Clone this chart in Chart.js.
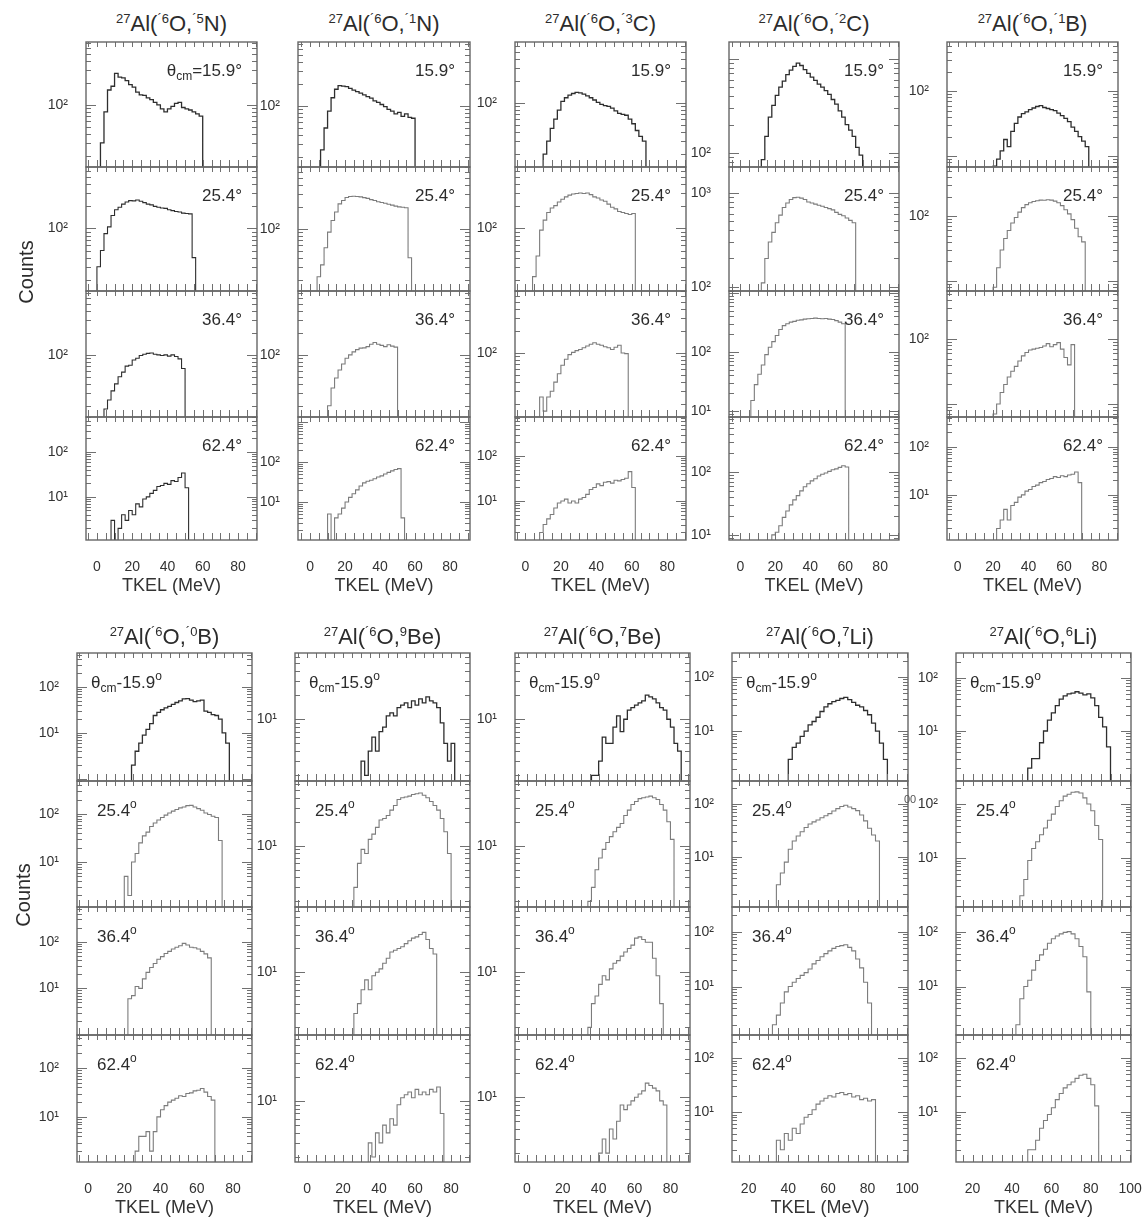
<!DOCTYPE html>
<html>
<head>
<meta charset="utf-8">
<title>TKEL spectra, 16O + 27Al</title>
<script src="https://cdn.jsdelivr.net/npm/chart.js@4.4.1/dist/chart.umd.min.js"></script>
<style>
  html, body { margin: 0; padding: 0; background: #fff; }
  #fig { position: relative; width: 1146px; height: 1218px; overflow: hidden;
         font-family: "Liberation Sans", Arial, sans-serif; color: #2c2c2c; }
  #fig canvas { position: absolute; }
  .ttl { position: absolute; font-size: 22px; line-height: 22px; white-space: nowrap; transform: translateX(-50%); }
  .ttl sup { font-size: 13px; vertical-align: 8px; line-height: 0; }
  .ang { position: absolute; font-size: 17px; line-height: 17px; white-space: nowrap; }
  .ang sub { font-size: 12px; vertical-align: -4px; line-height: 0; }
  .ang sup { font-size: 12px; vertical-align: 8px; line-height: 0; }
  .ylab { position: absolute; font-size: 20px; white-space: nowrap; transform: translate(-50%, -50%) rotate(-90deg); }
  .frag { position: absolute; font-size: 11px; color: #555; }
</style>
</head>
<body>
<div id="fig"></div>
<script>
// channel width of the spectra (MeV)
const BIN = 2;
const anglesCM = ['15.9', '25.4', '36.4', '62.4'];
const tkelTicks = [0, 20, 40, 60, 80];
const tkelTicksLi = [20, 40, 60, 80, 100];

// 27Al(16O,15N)
const n15Start = [0, -2, 2, 6];
const n15Counts = [
  [0,30,80,160,180,270,240,235,215,190,175,150,137,135,125,118,108,100,88,80,88,95,105,108,92,88,85,80,75,70,0],
  [0,30,50,85,105,150,180,195,215,230,240,238,245,235,225,215,210,200,195,190,188,180,175,170,168,162,160,158,40,0],
  [0,18,24,32,40,50,58,70,72,85,90,98,102,105,106,102,100,98,100,96,100,95,88,65,0],
  [0,3,0,2,4,3,5,4,7,6,9,10,12,14,17,18,20,19,23,22,27,34,16,0]
];
const n15Range = [[14, 730], [14, 690], [14, 755], [1.1, 600]];
const n15Decades = [[100], [100], [100], [10, 100]];

// 27Al(16O,14N)
const n14Start = [4, 2, 8, 8];
const n14Counts = [
  [0,25,50,85,130,170,190,188,185,175,165,158,150,142,135,128,118,112,105,98,90,85,78,82,72,78,70,68,0],
  [0,22,32,55,90,130,170,220,245,270,278,280,278,275,268,262,252,245,235,230,225,218,212,205,200,198,195,40,0],
  [0,20,35,48,62,75,90,100,110,118,124,125,130,140,148,140,135,130,138,132,128,0],
  [0,5,0,4,5,7,10,13,16,20,25,30,33,35,38,42,45,50,55,60,65,68,4,0]
];
const n14Range = [[14.6, 755], [14, 707], [14, 755], [1.12, 1330]];
const n14Decades = [[100], [100], [100], [10, 100]];

// 27Al(16O,13C)
const c13Start = [8, 2, 6, 6];
const c13Counts = [
  [0,20,30,45,60,80,105,118,128,135,140,138,132,125,118,110,102,96,92,90,85,78,72,70,68,60,52,42,35,30,0],
  [0,22,42,95,130,165,190,205,230,250,270,285,295,300,305,300,305,290,270,260,245,235,215,195,185,170,165,160,155,160,0],
  [0,25,16,25,30,40,52,68,82,95,102,108,112,118,125,132,138,132,128,122,118,112,120,128,100,98,0],
  [0,2,3,4,5,7,9,10,11,9,10,9,11,12,14,18,20,24,22,26,27,25,29,28,30,32,45,20,0]
];
const c13Range = [[13.3, 684], [14, 690], [13.3, 707], [1.36, 735]];
const c13Decades = [[100], [100], [100], [10, 100]];

// 27Al(16O,12C)
const c12Start = [10, 10, 4, 16];
const c12Counts = [
  [0,85,150,240,320,410,500,580,680,760,830,900,850,770,700,640,590,540,500,460,420,370,330,280,240,200,175,150,115,95,0],
  [0,110,200,300,380,480,580,700,780,850,890,900,880,850,800,780,760,740,720,700,680,660,620,590,570,540,510,480,0],
  [0,15,28,42,60,90,120,150,190,240,280,300,320,330,345,350,360,365,370,375,370,365,370,360,355,340,320,300,0],
  [0,10,11,14,19,24,30,36,42,50,58,65,72,78,86,92,96,102,108,112,118,125,120,0]
];
const c12Range = [[71, 1510], [90, 1890], [7.9, 1080], [8.3, 745]];
const c12Decades = [[100], [100, 1000], [10, 100], [10, 100]];

// 27Al(16O,11B)
const b11Start = [18, 18, 16, 20];
const b11Counts = [
  [0,7,9,12,18,14,24,32,40,45,48,52,55,58,60,56,54,52,50,46,42,38,34,28,24,20,17,14,0],
  [0,8,16,30,45,60,78,95,115,135,150,160,168,172,176,175,178,176,170,160,145,125,108,88,65,48,40,0],
  [0,4,7,10,15,20,26,32,38,46,55,62,68,70,72,74,78,85,76,82,88,70,52,40,82,0],
  [0,2,3,5,3,6,7,9,10,12,13,15,16,18,19,21,22,24,23,25,24,26,27,30,18,0]
];
const b11Range = [[6.8, 570], [7, 570], [6.3, 550], [1.15, 420]];
const b11Decades = [[100], [100], [100], [10, 100]];

// 27Al(16O,10B)
const b10Start = [22, 18, 20, 24];
const b10Counts = [
  [0,2,4,6,9,12,16,24,28,32,35,38,42,46,50,55,56,52,48,50,52,30,28,25,24,20,10,6,0],
  [0,5,2,10,15,25,35,42,55,65,75,85,95,105,115,125,135,140,150,152,140,130,120,105,98,90,85,28,0],
  [0,6,7,11,10,16,22,28,34,42,48,56,62,70,76,82,92,85,76,74,70,62,55,45,0],
  [0,2,4,4,5,2,5,10,14,17,20,22,24,27,26,30,31,34,35,38,32,26,22,0]
];
const b10Range = [[0.9, 550], [1.15, 490], [1, 555], [1.2, 470]];
const b10Decades = [[10, 100], [10, 100], [10, 100], [10, 100]];

// 27Al(16O,9Be)
const be9Start = [28, 24, 24, 32];
const be9Counts = [
  [0,3,2,4,6,4,7,8,11,12,11,14,15,16,14,17,15,18,16,19,17,16,14,9,5,3,5,0],
  [0,3,6,9,8,12,14,17,21,22,24,28,32,38,40,41,42,44,45,46,43,40,36,32,28,22,15,8,0],
  [0,3,4,6,8,6,9,10,11,13,15,18,19,20,21,23,25,27,28,30,32,26,20,17,0],
  [0,3,2,4,3,5,4,6,5,9,11,12,13,11,14,12,13,12,14,13,15,7,0]
];
const be9Range = [[1.7, 67], [1.7, 65], [1.6, 67], [1.73, 67]];
const be9Decades = [[10], [10], [10], [10]];

// 27Al(16O,7Be)
const be7Start = [34, 32, 32, 38];
const be7Counts = [
  [0,2,2,3,6,5,5,8,11,7,10,13,14,15,16,17,20,19,18,16,14,13,10,8,5,4,0],
  [0,2,3,5,7,9,11,13,15,17,19,24,28,33,36,39,40,41,42,40,38,33,28,20,12,0],
  [0,2,4,5,7,9,8,11,13,14,16,18,20,22,27,28,26,24,24,15,9,4,0],
  [0,2,3,2,4,3,5,8,7,8,9,10,11,12,15,14,13,12,9,8,0]
];
const be7Range = [[1.7, 67], [1.7, 65], [1.6, 67], [1.55, 60]];
const be7Decades = [[10], [10], [10], [10]];

// 27Al(16O,7Li)
const li7Start = [38, 32, 30, 32];
const li7Counts = [
  [0,3,5,6,8,10,13,15,18,23,28,32,35,37,40,42,38,34,30,28,24,20,14,10,6,3,0],
  [0,3,5,8,14,20,25,30,36,42,46,50,55,60,66,74,82,90,95,88,82,75,62,48,35,26,20,0],
  [0,2,3,5,8,10,12,14,16,18,21,26,30,35,40,45,50,54,56,58,52,45,32,22,12,5,0],
  [0,3,2,4,3,5,4,6,8,9,11,14,16,18,20,19,22,23,21,22,19,20,17,18,16,17,0]
];
const li7Range = [[1.19, 278], [1.14, 272], [1.3, 285], [1.19, 267]];
const li7Decades = [[10, 100], [10, 100], [10, 100], [10, 100]];

// 27Al(16O,6Li)
const li6Start = [46, 42, 40, 46];
const li6Counts = [
  [0,2,3,3,6,10,16,22,30,40,46,50,52,55,52,48,50,42,30,18,12,5,0],
  [0,2,4,9,15,20,27,36,50,65,90,115,140,152,165,168,160,130,100,75,40,22,0],
  [0,2,6,10,13,20,30,38,48,62,75,84,92,98,101,92,75,54,35,8,0],
  [0,2,2,3,5,7,9,12,17,22,28,32,36,42,48,50,42,32,13,0]
];
const li6Range = [[1.14, 296], [1.24, 267], [1.3, 285], [1.19, 267]];
const li6Decades = [[10, 100], [10, 100], [10, 100], [10, 100]];

const topBlock = [
  {mass: '´5', el: 'N',  start: n15Start, counts: n15Counts, range: n15Range, decades: n15Decades},
  {mass: '´1', el: 'N',  start: n14Start, counts: n14Counts, range: n14Range, decades: n14Decades},
  {mass: '´3', el: 'C',  start: c13Start, counts: c13Counts, range: c13Range, decades: c13Decades},
  {mass: '´2', el: 'C',  start: c12Start, counts: c12Counts, range: c12Range, decades: c12Decades},
  {mass: '´1', el: 'B',  start: b11Start, counts: b11Counts, range: b11Range, decades: b11Decades}
];
const bottomBlock = [
  {mass: '´0', el: 'B',  start: b10Start, counts: b10Counts, range: b10Range, decades: b10Decades},
  {mass: '9',  el: 'Be', start: be9Start, counts: be9Counts, range: be9Range, decades: be9Decades},
  {mass: '7',  el: 'Be', start: be7Start, counts: be7Counts, range: be7Range, decades: be7Decades},
  {mass: '7',  el: 'Li', start: li7Start, counts: li7Counts, range: li7Range, decades: li7Decades},
  {mass: '6',  el: 'Li', start: li6Start, counts: li6Counts, range: li6Range, decades: li6Decades}
];

// page layout of the two 5x4 panel grids
const TOP_ROWS = [42, 167, 291, 417, 540];
const BOT_ROWS = [653, 781, 907, 1035, 1162];
const TOP_COLS = [[86, 257], [298, 470], [515, 686], [729, 899], [947, 1118]];
const BOT_COLS = [[77, 252], [295, 470], [515, 690], [732, 908], [956, 1131]];
const TOP_X = [[-6.2, 90.8], [-6.9, 91.4], [-5.9, 90.6], [-6.5, 90.8], [-6, 90.5]];
const BOT_X = [[-6.1, 90.5], [-6.7, 90.5], [-6.6, 90.9], [11.6, 100.4], [11.6, 100.4]];

const FONT = '"Liberation Sans", Arial, sans-serif';
const SUP = ['⁰', '¹', '²', '³', '⁴'];
const FLOOR = 0.1;   // empty channels sit below every axis
const AXW = 46, PAD = 4, XAXH = 62, LABEL_ROOM = 16;

const fig = document.getElementById('fig');

// box, inward ticks on all four sides, log minor ticks
const frame = {
  id: 'frame',
  afterDatasetsDraw(chart) {
    const {ctx, chartArea: a, scales: {x, y}} = chart;
    ctx.save();
    ctx.strokeStyle = '#707070';
    ctx.lineWidth = 1;
    ctx.beginPath();
    for (let v = Math.ceil(x.min / 5) * 5; v <= x.max; v += 5) {
      const px = Math.round(x.getPixelForValue(v)) + 0.5;
      ctx.moveTo(px, a.bottom); ctx.lineTo(px, a.bottom - 7);
      ctx.moveTo(px, a.top); ctx.lineTo(px, a.top + 5);
    }
    const d0 = Math.floor(Math.log10(y.min)), d1 = Math.ceil(Math.log10(y.max));
    for (let d = d0; d <= d1; d++) {
      for (let m = 1; m < 10; m++) {
        const v = m * Math.pow(10, d);
        if (v < y.min || v > y.max) continue;
        const py = Math.round(y.getPixelForValue(v)) + 0.5;
        const len = m === 1 ? 10 : 5;
        ctx.moveTo(a.left, py); ctx.lineTo(a.left + len, py);
        ctx.moveTo(a.right, py); ctx.lineTo(a.right - len, py);
      }
    }
    ctx.stroke();
    ctx.lineWidth = 1.4;
    ctx.strokeStyle = '#666';
    ctx.strokeRect(a.left, a.top, a.right - a.left, a.bottom - a.top);
    ctx.restore();
  }
};

function addPanel(box, xr, spec, r, last, xt, color) {
  const [left, right, top, bottom] = box;
  const w = right - left, h = bottom - top;
  const padR = PAD + (last ? LABEL_ROOM : 0);   // room for the rightmost tick label
  const cw = w + AXW + padR, ch = h + PAD + (last ? XAXH : PAD);
  const cv = document.createElement('canvas');
  cv.width = cw; cv.height = ch;
  cv.style.left = (left - AXW) + 'px';
  cv.style.top = (top - PAD) + 'px';
  cv.style.width = cw + 'px';
  cv.style.height = ch + 'px';
  fig.appendChild(cv);

  const pts = spec.counts[r].map((c, i) => ({x: spec.start[r] + i * BIN, y: c > 0 ? c : FLOOR}));

  new Chart(cv, {
    type: 'line',
    data: {datasets: [{data: pts, stepped: 'before', borderColor: color,
                       borderWidth: r === 0 ? 1.3 : 1.1, pointRadius: 0, fill: false}]},
    options: {
      responsive: false, animation: false, events: [],
      layout: {padding: {left: 0, top: PAD, right: padR, bottom: last ? 0 : PAD}},
      plugins: {legend: {display: false}, tooltip: {enabled: false}},
      scales: {
        x: {
          type: 'linear', bounds: 'data', min: xr[0], max: xr[1],
          grid: {display: false}, border: {display: false},
          afterBuildTicks: s => { s.ticks = xt.map(v => ({value: v})); },
          ticks: {display: last, autoSkip: false, maxRotation: 0, padding: 11,
                  color: '#333', font: {family: FONT, size: 14}},
          title: {display: last, text: 'TKEL (MeV)', color: '#333',
                  font: {family: FONT, size: 18}, padding: {top: 4, bottom: 5}},
          afterFit: s => {
            s.height = last ? XAXH : 0;
            s.paddingLeft = 0; s.paddingRight = 0;
          }
        },
        y: {
          type: 'logarithmic', bounds: 'data', min: spec.range[r][0], max: spec.range[r][1],
          grid: {display: false}, border: {display: false},
          afterBuildTicks: s => { s.ticks = spec.decades[r].map(v => ({value: v})); },
          ticks: {autoSkip: false, padding: 10, color: '#333', font: {family: FONT, size: 14},
                  callback: v => '10' + SUP[Math.round(Math.log10(v))]},
          afterFit: s => {
            s.width = AXW;
            s.paddingTop = 0; s.paddingBottom = 0;
          }
        }
      }
    },
    plugins: [frame]
  });
}

function addText(cls, html, css) {
  const d = document.createElement('div');
  d.className = cls;
  d.innerHTML = html;
  Object.assign(d.style, css);
  fig.appendChild(d);
}

function reaction(spec) {
  return '<sup>27</sup>Al(<sup>´6</sup>O,<sup>' + spec.mass + '</sup>' + spec.el + ')';
}

// upper block: 15N ... 11B
topBlock.forEach((spec, c) => {
  const [l, rgt] = TOP_COLS[c];
  addText('ttl', reaction(spec), {left: ((l + rgt) / 2) + 'px', top: '13px'});
  for (let r = 0; r < 4; r++) {
    const color = (r === 0 || c === 0) ? '#2e2e2e' : '#7c7c7c';
    addPanel([l, rgt, TOP_ROWS[r], TOP_ROWS[r + 1]], TOP_X[c], spec, r, r === 3, tkelTicks, color);
    const txt = (r === 0 && c === 0) ? 'θ<sub>cm</sub>=' + anglesCM[r] + '°' : anglesCM[r] + '°';
    addText('ang', txt, {right: (1146 - rgt + 15) + 'px', top: (TOP_ROWS[r] + 20) + 'px'});
  }
});

// lower block: 10B ... 6Li
bottomBlock.forEach((spec, c) => {
  const [l, rgt] = BOT_COLS[c];
  addText('ttl', reaction(spec), {left: ((l + rgt) / 2) + 'px', top: '626px'});
  for (let r = 0; r < 4; r++) {
    const color = r === 0 ? '#2e2e2e' : '#7c7c7c';
    const xt = c >= 3 ? tkelTicksLi : tkelTicks;
    addPanel([l, rgt, BOT_ROWS[r], BOT_ROWS[r + 1]], BOT_X[c], spec, r, r === 3, xt, color);
    const txt = r === 0 ? 'θ<sub>cm</sub>-' + anglesCM[r] + '<sup>o</sup>' : anglesCM[r] + '<sup>o</sup>';
    addText('ang', txt, {left: (l + (r === 0 ? 14 : 20)) + 'px', top: (BOT_ROWS[r] + 21) + 'px'});
  }
});

addText('ylab', 'Counts', {left: '26px', top: '272px'});
addText('ylab', 'Counts', {left: '23px', top: '895px'});
addText('frag', '00', {left: '904px', top: '793px'});
</script>
</body>
</html>
